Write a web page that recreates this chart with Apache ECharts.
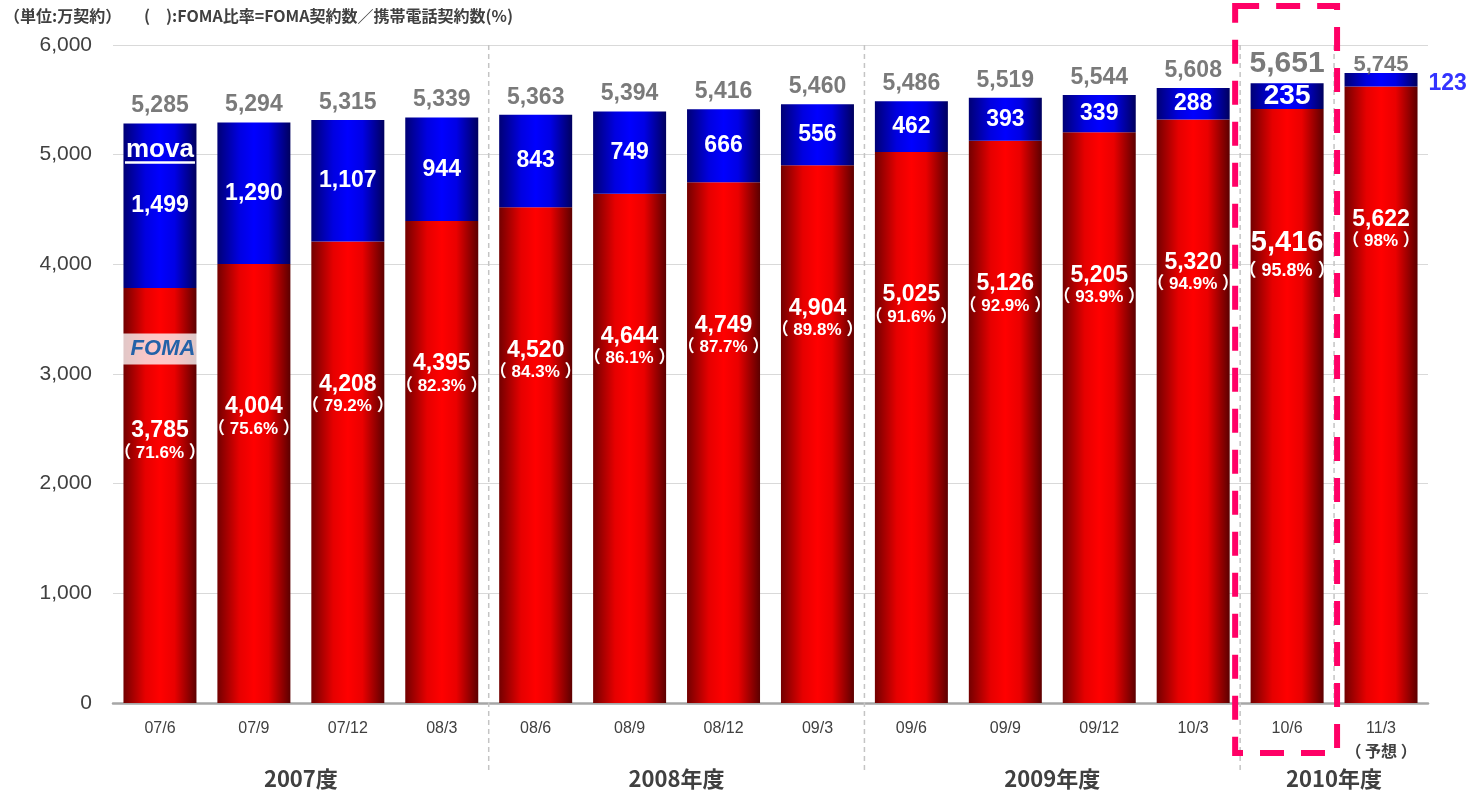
<!DOCTYPE html>
<html>
<head>
<meta charset="utf-8">
<script src="https://cdn.jsdelivr.net/npm/echarts@6/dist/echarts.min.js"></script>
<style>
  html, body { margin: 0; padding: 0; background: #ffffff; }
  #chart { width: 1467px; height: 791px; }
</style>
</head>
<body>
<div id="chart"></div>
<script>
// Quarter-end subscriber counts (unit: 10,000 contracts)
const categories = ['07/6', '07/9', '07/12', '08/3', '08/6', '08/9', '08/12', '09/3', '09/6', '09/9', '09/12', '10/3', '10/6', '11/3'];
const fomaValues = [3785, 4004, 4208, 4395, 4520, 4644, 4749, 4904, 5025, 5126, 5205, 5320, 5416, 5622];
const movaValues = [1499, 1290, 1107, 944, 843, 749, 666, 556, 462, 393, 339, 288, 235, 123];
const totalValues = [5285, 5294, 5315, 5339, 5363, 5394, 5416, 5460, 5486, 5519, 5544, 5608, 5651, 5745];
const fomaRatios = ['71.6', '75.6', '79.2', '82.3', '84.3', '86.1', '87.7', '89.8', '91.6', '92.9', '93.9', '94.9', '95.8', '98'];
const yTicks = [0, 1000, 2000, 3000, 4000, 5000, 6000];

// Fiscal-year groups shown under the axis (first / last category index)
const yearLabels = ['2007度', '2008年度', '2009年度', '2010年度'];
const yearFirst = [0, 4, 8, 12];
const yearLast = [3, 7, 11, 13];

const highlightIndex = 12;   // latest actual quarter, framed
const forecastIndex = 13;    // forecast column
const forecastNote = '（ 予想 ）';

const unitText = '（単位:万契約）';
const ratioText = '(　):FOMA比率=FOMA契約数／携帯電話契約数(%)';

const NUM_FONT = '"Liberation Sans", Arial, "Noto Sans CJK JP", sans-serif';
const JP_FONT = '"Noto Sans CJK JP", "Liberation Sans", sans-serif';

const fmt = v => v.toLocaleString('en-US');

const redFill = new echarts.graphic.LinearGradient(0, 0, 1, 0, [
  { offset: 0, color: '#730000' },
  { offset: 0.3, color: '#e60000' },
  { offset: 0.5, color: '#ff0000' },
  { offset: 0.7, color: '#ea0000' },
  { offset: 1, color: '#5c0000' }
]);
const blueFill = new echarts.graphic.LinearGradient(0, 0, 1, 0, [
  { offset: 0, color: '#000075' },
  { offset: 0.3, color: '#0000e0' },
  { offset: 0.5, color: '#0000ff' },
  { offset: 0.7, color: '#0000e6' },
  { offset: 1, color: '#00005e' }
]);

const fomaData = fomaValues.map((v, i) => {
  const big = i === highlightIndex;
  let dist = 131;
  if (i === highlightIndex) dist = 118;
  if (i === forecastIndex) dist = 121;
  return {
    value: v,
    label: {
      distance: dist,
      formatter: '{' + (big ? 'vb' : 'v') + '|' + fmt(v) + '}\n{' + (big ? 'pb' : 'p') + '|（ ' + fomaRatios[i] + '% ）}'
    }
  };
});

const movaData = movaValues.map((v, i) => {
  const item = { value: v };
  if (i === highlightIndex) {
    item.label = { fontSize: 28 };
  } else if (i === forecastIndex) {
    item.label = { position: 'right', distance: 11, color: '#3333ff', fontSize: 23, offset: [0, 4] };
  }
  return item;
});

const totalData = totalValues.map((v, i) => {
  const item = { value: v };
  if (i === highlightIndex) {
    item.label = { fontSize: 30, distance: 5 };
  } else if (i === forecastIndex) {
    item.label = { fontSize: 22, distance: -3 };
  }
  return item;
});

const chart = echarts.init(document.getElementById('chart'), null, { renderer: 'canvas' });

chart.setOption({
  animation: false,
  backgroundColor: '#ffffff',
  grid: { left: 113, right: 39, top: 45, bottom: 88, containLabel: false },
  xAxis: {
    type: 'category',
    data: categories,
    axisLine: { lineStyle: { color: '#a6a6a6', width: 2.5 } },
    axisTick: { show: false },
    axisLabel: {
      interval: 0,
      margin: 15,
      color: '#404040',
      fontSize: 16,
      fontFamily: NUM_FONT,
      lineHeight: 22,
      formatter: (val, idx) => idx === forecastIndex ? val + '\n{n|' + forecastNote + '}' : val,
      rich: {
        n: { fontSize: 16, fontWeight: 'bold', color: '#404040', fontFamily: JP_FONT, lineHeight: 22 }
      }
    }
  },
  yAxis: {
    type: 'value',
    min: yTicks[0],
    max: yTicks[yTicks.length - 1],
    interval: yTicks[1] - yTicks[0],
    axisLine: { show: false },
    axisTick: { show: false },
    splitLine: { lineStyle: { color: '#d9d9d9', width: 1.2 } },
    axisLabel: {
      margin: 21,
      color: '#404040',
      fontSize: 21,
      fontFamily: NUM_FONT,
      formatter: v => fmt(v)
    }
  },
  series: [
    {
      name: 'FOMA',
      type: 'bar',
      stack: 'total',
      barWidth: 73,
      data: fomaData,
      itemStyle: { color: redFill },
      label: {
        show: true,
        position: 'insideTop',
        color: '#ffffff',
        fontFamily: NUM_FONT,
        rich: {
          v: { fontSize: 23, fontWeight: 'bold', color: '#ffffff', lineHeight: 24, fontFamily: NUM_FONT },
          p: { fontSize: 17, fontWeight: 'bold', color: '#ffffff', lineHeight: 20, fontFamily: NUM_FONT },
          vb: { fontSize: 29, fontWeight: 'bold', color: '#ffffff', lineHeight: 32, fontFamily: NUM_FONT },
          pb: { fontSize: 18, fontWeight: 'bold', color: '#ffffff', lineHeight: 24, fontFamily: NUM_FONT }
        }
      },
      markPoint: {
        silent: true,
        data: [{
          coord: [categories[0], 3227],
          symbol: 'rect',
          symbolSize: [83, 31],
          symbolOffset: [3, 0],
          itemStyle: { color: 'rgba(255,255,255,0.78)' },
          label: {
            show: true,
            position: 'inside',
            formatter: 'FOMA',
            color: '#2462a8',
            fontSize: 22,
            fontStyle: 'italic',
            fontWeight: 'bold',
            fontFamily: NUM_FONT
          }
        }]
      }
    },
    {
      name: 'mova',
      type: 'bar',
      stack: 'total',
      barWidth: 73,
      data: movaData,
      itemStyle: { color: blueFill },
      label: {
        show: true,
        position: 'inside',
        color: '#ffffff',
        fontSize: 23,
        fontWeight: 'bold',
        fontFamily: NUM_FONT,
        formatter: p => fmt(p.value)
      },
      markPoint: {
        silent: true,
        data: [{
          coord: [categories[0], fomaValues[0] + movaValues[0]],
          symbol: 'rect',
          symbolSize: [70, 2.5],
          symbolOffset: [0, 39],
          itemStyle: { color: '#ffffff' },
          label: {
            show: true,
            position: 'inside',
            offset: [0, -13],
            formatter: 'mova',
            color: '#ffffff',
            fontSize: 26,
            fontWeight: 'bold',
            fontFamily: NUM_FONT
          }
        }]
      }
    },
    {
      name: 'total',
      type: 'scatter',
      symbolSize: 0,
      silent: true,
      z: 5,
      data: totalData,
      label: {
        show: true,
        position: 'top',
        distance: 6,
        color: '#595959',
        fontSize: 23,
        fontWeight: 'bold',
        fontFamily: NUM_FONT,
        formatter: p => fmt(p.value)
      }
    }
  ]
});

// Separators, year captions and the frame around the latest quarter,
// positioned through the category axis scale.
function centerX(i) { return chart.convertToPixel({ xAxisIndex: 0 }, i); }
function boundaryX(i) { return (centerX(i - 1) + centerX(i)) / 2; }
const yTop = chart.convertToPixel({ yAxisIndex: 0 }, yTicks[yTicks.length - 1]);
const yBase = chart.convertToPixel({ yAxisIndex: 0 }, 0);

const graphics = [];

// header notes
graphics.push({
  type: 'text', left: 4, top: 8,
  style: { text: unitText, fill: '#404040', font: 'bold 16px ' + JP_FONT }
});
graphics.push({
  type: 'text', left: 144, top: 8,
  style: { text: ratioText, fill: '#404040', font: 'bold 16px ' + JP_FONT }
});

// dashed fiscal-year separators
yearFirst.slice(1).forEach(i => {
  const x = boundaryX(i);
  graphics.push({
    type: 'line', silent: true, z: 1,
    shape: { x1: x, y1: yTop, x2: x, y2: yBase + 67 },
    style: { stroke: '#c4c4c4', lineWidth: 1.5, lineDash: [5, 4] }
  });
});
{
  const x = boundaryX(forecastIndex);
  graphics.push({
    type: 'line', silent: true, z: 1,
    shape: { x1: x, y1: yTop, x2: x, y2: yBase },
    style: { stroke: '#c4c4c4', lineWidth: 1.5, lineDash: [5, 4] }
  });
}

// fiscal-year captions
yearLabels.forEach((t, k) => {
  const cx = (centerX(yearFirst[k]) + centerX(yearLast[k])) / 2;
  graphics.push({
    type: 'text', silent: true,
    x: cx, y: yBase + 76,
    style: { text: t, fill: '#404040', font: 'bold 22px ' + JP_FONT, align: 'center', verticalAlign: 'middle' }
  });
});

// frame around the latest actual quarter
{
  const x1 = boundaryX(highlightIndex) - 5;
  const x2 = boundaryX(highlightIndex + 1) + 3;
  graphics.push({
    type: 'rect', silent: true, z: 10,
    shape: { x: x1, y: 6, width: x2 - x1, height: yBase + 50 - 6 },
    style: { fill: 'none', stroke: '#ff0066', lineWidth: 6, lineDash: [24, 17] }
  });
}

chart.setOption({ graphic: graphics });
</script>
</body>
</html>
